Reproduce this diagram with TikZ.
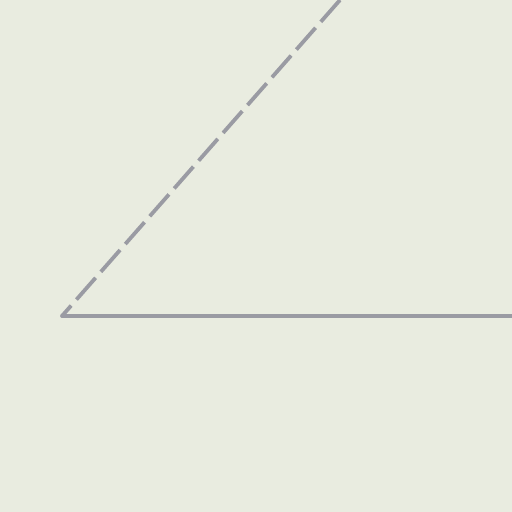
\documentclass[tikz,border=0pt]{standalone}
\definecolor{bgc}{HTML}{E9ECE0}
\definecolor{linec}{HTML}{9A9BA3}
\tikzset{ray/.style={draw=linec,line width=3.8pt,line cap=round}}
\begin{document}
\begin{tikzpicture}[x=1pt,y=-1pt]
\fill[bgc] (0,0) rectangle (512,512);
\useasboundingbox (0,0) rectangle (512,512);
\coordinate (o) at (62,316);
\coordinate (a) at (340,0);
\coordinate (b) at (512,316);
\draw[ray,line cap=butt,dash pattern=on 29pt off 8pt] (a) -- (o);
\draw[ray] (o) -- (b);
\end{tikzpicture}
\end{document}
